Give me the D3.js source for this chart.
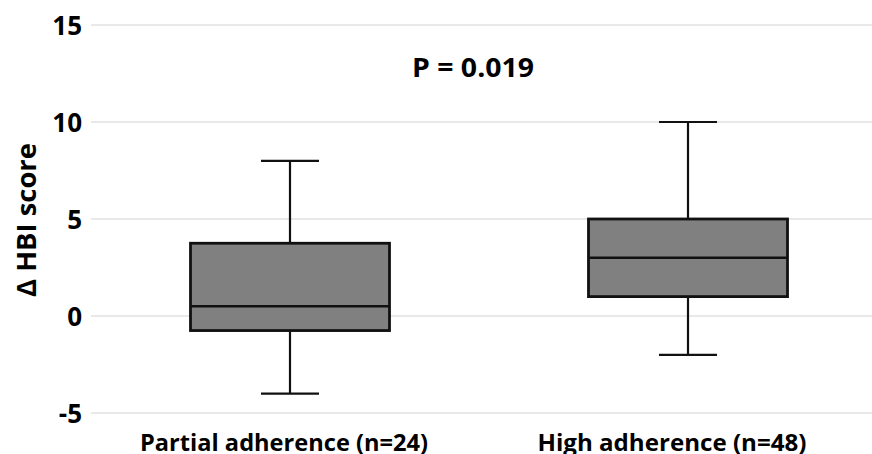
<!DOCTYPE html>
<html>
<head>
<meta charset="utf-8">
<script src="https://cdn.jsdelivr.net/npm/d3@7"></script>
<style>
  body { margin: 0; background: #fff; }
  text { font-family: "Open Sans", "DejaVu Sans", sans-serif; font-weight: bold; fill: #000; }
</style>
</head>
<body>
<div class="chart"></div>
<script>
// data
var categories = ["Partial adherence (n=24)", "High adherence (n=48)"];
var whiskerLow = [-4, -2];
var q1 = [-0.75, 1];
var median = [0.5, 3];
var q3 = [3.75, 5];
var whiskerHigh = [8, 10];
var yTicks = [-5, 0, 5, 10, 15];
var pLabel = "P = 0.019";
var yTitle = "\u0394 HBI score";

var W = 872, H = 454;
var margin = { top: 25, left: 91 };

var boxes = categories.map(function (c, i) {
    return { cat: c, lo: whiskerLow[i], q1: q1[i], med: median[i], q3: q3[i], hi: whiskerHigh[i] };
});

var svg = d3.select(".chart")
    .append("svg")
    .attr("width", W)
    .attr("height", H);

// y scale
var y = d3.scaleLinear().domain([-5, 15]).range([413, 25]);

// x scale (plot area runs past the right edge of the image)
var x = d3.scaleBand().domain(categories).range([margin.left, 887])
    .paddingInner(0.5).paddingOuter(0.25);

// category labels sit a bit left of the box centers in the original
var xLab = d3.scalePoint().domain(categories).range([284, 672]);

// gridlines
svg.append("g")
    .selectAll("line")
    .data(yTicks)
    .enter()
    .append("line")
    .attr("x1", margin.left)
    .attr("x2", W)
    .attr("y1", function (d) { return y(d); })
    .attr("y2", function (d) { return y(d); })
    .style("stroke", "#e2e2e2")
    .style("stroke-width", 1.3);

// y axis labels
var yAxis = svg.append("g")
    .attr("transform", "translate(" + margin.left + ",0)")
    .call(d3.axisLeft(y).tickValues(yTicks).tickSize(0).tickPadding(9)
        .tickFormat(function (d) { return String(d); }));
yAxis.select(".domain").remove();
yAxis.selectAll("text")
    .attr("dy", "0.36em")
    .style("font-size", "26px")
    .style("font-family", "'Open Sans', sans-serif")
    .style("font-weight", "bold");

// y title
svg.append("text")
    .attr("transform", "translate(36,220) rotate(-90)")
    .attr("text-anchor", "middle")
    .attr("textLength", 154)
    .attr("lengthAdjust", "spacingAndGlyphs")
    .style("font-size", "27px")
    .text(yTitle);

// whiskers
var g = svg.append("g");
var cx = function (d) { return x(d.cat) + x.bandwidth() / 2; };
var capHalf = 29;

g.selectAll(".stem")
    .data(boxes)
    .enter()
    .append("line")
    .attr("class", "stem")
    .attr("x1", cx).attr("x2", cx)
    .attr("y1", function (d) { return y(d.lo); })
    .attr("y2", function (d) { return y(d.hi); })
    .style("stroke", "#111")
    .style("stroke-width", 2.2);

g.selectAll(".capHi")
    .data(boxes)
    .enter()
    .append("line")
    .attr("x1", function (d) { return cx(d) - capHalf; })
    .attr("x2", function (d) { return cx(d) + capHalf; })
    .attr("y1", function (d) { return y(d.hi); })
    .attr("y2", function (d) { return y(d.hi); })
    .style("stroke", "#111")
    .style("stroke-width", 2.2);

g.selectAll(".capLo")
    .data(boxes)
    .enter()
    .append("line")
    .attr("x1", function (d) { return cx(d) - capHalf; })
    .attr("x2", function (d) { return cx(d) + capHalf; })
    .attr("y1", function (d) { return y(d.lo); })
    .attr("y2", function (d) { return y(d.lo); })
    .style("stroke", "#111")
    .style("stroke-width", 2.2);

// boxes
g.selectAll(".box")
    .data(boxes)
    .enter()
    .append("rect")
    .attr("x", function (d) { return x(d.cat); })
    .attr("width", x.bandwidth())
    .attr("y", function (d) { return y(d.q3); })
    .attr("height", function (d) { return y(d.q1) - y(d.q3); })
    .style("fill", "#808080")
    .style("stroke", "#111")
    .style("stroke-width", 2.8);

// medians
g.selectAll(".med")
    .data(boxes)
    .enter()
    .append("line")
    .attr("x1", function (d) { return x(d.cat); })
    .attr("x2", function (d) { return x(d.cat) + x.bandwidth(); })
    .attr("y1", function (d) { return y(d.med); })
    .attr("y2", function (d) { return y(d.med); })
    .style("stroke", "#111")
    .style("stroke-width", 2.6);

// category labels
svg.selectAll(".catLabel")
    .data(categories)
    .enter()
    .append("text")
    .attr("x", function (d) { return xLab(d); })
    .attr("y", 451)
    .attr("text-anchor", "middle")
    .attr("textLength", function (d, i) { return i === 0 ? 288 : 269; })
    .attr("lengthAdjust", "spacingAndGlyphs")
    .style("font-size", "23px")
    .text(function (d) { return d; });

// p-value
svg.append("text")
    .attr("x", 473)
    .attr("y", 77)
    .attr("text-anchor", "middle")
    .attr("textLength", 122)
    .attr("lengthAdjust", "spacingAndGlyphs")
    .style("font-size", "27px")
    .text(pLabel);
</script>
</body>
</html>
